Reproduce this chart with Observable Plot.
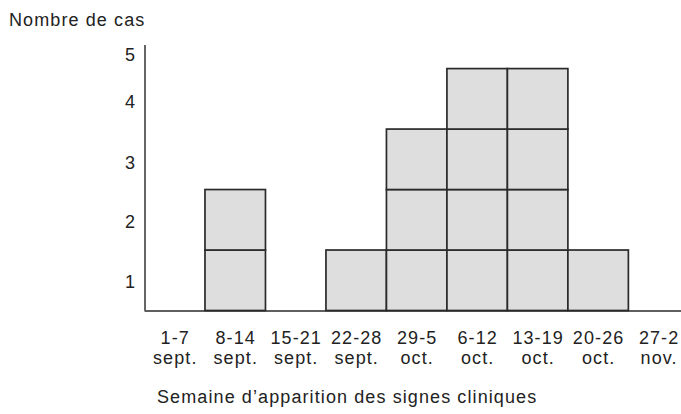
<!DOCTYPE html>
<html>
<head>
<meta charset="utf-8">
<script src="https://cdn.jsdelivr.net/npm/d3@7"></script>
<script src="https://cdn.jsdelivr.net/npm/@observablehq/plot@0.6"></script>
<style>
  html, body { margin: 0; padding: 0; background: #fff; }
  body { width: 681px; height: 414px; overflow: hidden; font-family: "Liberation Sans", Arial, sans-serif; color: #222; }
  .title { height: 40px; box-sizing: border-box; padding: 10px 0 0 9px; font-size: 18px; line-height: 20px; letter-spacing: 1.1px; }
  .caption { height: 34px; box-sizing: border-box; padding: 7px 0 0 157px; font-size: 18px; line-height: 20px; letter-spacing: 1.1px; }
  #chart svg text { letter-spacing: 1.1px; }
</style>
</head>
<body>
<div class="title">Nombre de cas</div>
<div id="chart"></div>
<div class="caption">Semaine d’apparition des signes cliniques</div>
<script>
// ---- data ----
const weeks = ["1-7", "8-14", "15-21", "22-28", "29-5", "6-12", "13-19", "20-26", "27-2"];
const months = ["sept.", "sept.", "sept.", "sept.", "oct.", "oct.", "oct.", "oct.", "nov."];
const cases = [0, 2, 0, 1, 3, 4, 4, 1, 0];
const yTickLabels = ["1", "2", "3", "4", "5"];

// ---- chart config ----
const yTickAt = [0.47, 1.46, 2.45, 3.45, 4.23];

// one square per case
const cells = [];
cases.forEach((n, i) => {
  for (let k = 0; k < n; k++) cells.push({ week: i, level: k });
});

const chart = Plot.plot({
  width: 681,
  height: 340,
  marginLeft: 144.5,
  marginRight: 0,
  marginTop: 5,
  marginBottom: 69.5,
  style: { fontFamily: "'Liberation Sans', Arial, sans-serif", fontSize: "18px", color: "#222", background: "#fff" },
  x: { domain: [0, 8.87] },
  y: { domain: [0, 4.39] },
  marks: [
    Plot.rect(cells, {
      x1: d => d.week, x2: d => d.week + 1,
      y1: d => d.level, y2: d => d.level + 1,
      fill: "#dedede", stroke: "#2a2a2a", strokeWidth: 1.7
    }),
    Plot.ruleX([0], { stroke: "#333", strokeWidth: 1.5 }),
    Plot.ruleY([0], { stroke: "#2a2a2a", strokeWidth: 1.7 }),
    Plot.axisY(yTickAt, {
      tickSize: 0, tickPadding: 9, fontSize: 18,
      tickFormat: (d, i) => yTickLabels[i], label: null
    }),
    Plot.axisX(weeks.map((w, i) => i + 0.5), {
      tickSize: 0, tickPadding: 18.5, fontSize: 18, lineHeight: 1.12,
      tickFormat: (d, i) => weeks[i] + "\n" + months[i], label: null
    })
  ]
});
document.getElementById("chart").appendChild(chart);
</script>
</body>
</html>
